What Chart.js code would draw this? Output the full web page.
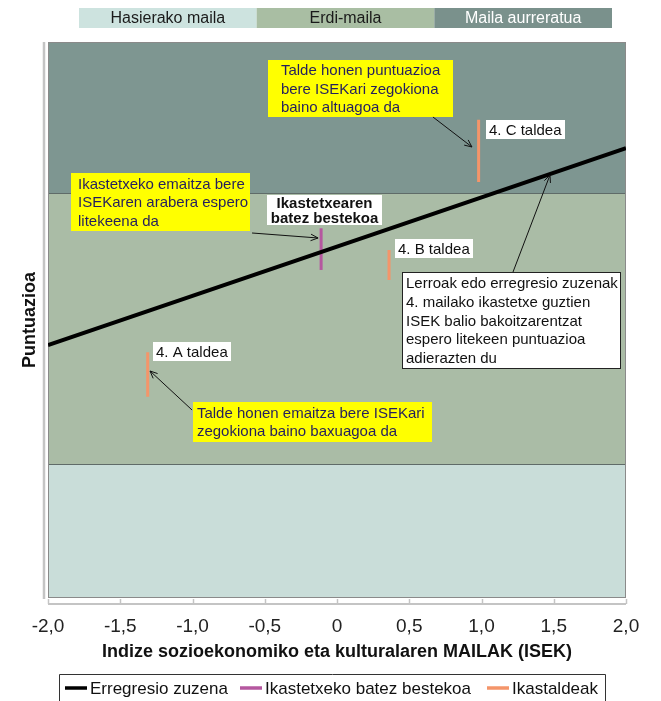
<!DOCTYPE html>
<html><head><meta charset="utf-8">
<script src="https://cdn.jsdelivr.net/npm/chart.js@4.4.1/dist/chart.umd.min.js"></script>
<style>html,body{margin:0;padding:0;background:#fff;}#wrap{width:661px;height:701px;position:relative;overflow:hidden;}</style>
</head><body><div id="wrap"><canvas id="c" width="661" height="701"></canvas></div>
<script>
// ---- data ----
const xTickValues = [-2, -1.5, -1, -0.5, 0, 0.5, 1, 1.5, 2];
const xTickLabels = ['-2,0', '-1,5', '-1,0', '-0,5', '0', '0,5', '1,0', '1,5', '2,0'];
const seriesNames = ['Erregresio zuzena', 'Ikastetxeko batez bestekoa', 'Ikastaldeak'];
const regressionIsek = [-2, 2];
const regressionScore = [45.5, 80.9];
const schoolIsek = [-0.11];
const schoolLow = [59.0];
const schoolHigh = [66.5];
const groupNames = ['4. A taldea', '4. B taldea', '4. C taldea'];
const groupIsek = [-1.31, 0.36, 0.98];
const groupLow = [36.2, 57.2, 74.8];
const groupHigh = [44.2, 62.6, 86.0];
const bandNames = ['Hasierako maila', 'Erdi-maila', 'Maila aurreratua'];
const bandLimits = [0, 24.1, 72.8, 100];

// ---- styles ----
const FONT = "'Liberation Sans', Arial, sans-serif";
const bandFill = ['#c9ddd9', '#aabca6', '#7e9691'];
const bandKeyFill = ['#cde3df', '#a9bea3', '#7a918c'];
const bandKeyText = ['#1a1a1a', '#1a1a1a', '#ffffff'];
const seriesColors = ['#000000', '#b5579f', '#f4956a'];
const NAVY = '#241f5e';

// annotation boxes (anchor = top-left in data units)
const notes = [
  {x: -0.478, y: 96.76, w: 185, h: 57, padX: 13, lh: 18.4, bg: '#ffff00', color: NAVY,
   lines: ['Talde honen puntuazioa', 'bere ISEKari zegokiona', 'baino altuagoa da']},
  {x: -1.841, y: 76.44, w: 179, h: 58, padX: 7, lh: 18.4, bg: '#ffff00', color: NAVY,
   lines: ['Ikastetxeko emaitza bere', 'ISEKaren arabera espero', 'litekeena da']},
  {x: -0.484, y: 72.48, w: 115, h: 30, center: true, bold: true, lh: 15, bg: '#ffffff', color: '#111',
   lines: ['Ikastetxearen', 'batez bestekoa']},
  {x: 0.450, y: 58.63, w: 219, h: 97, padX: 4, lh: 18.6, bg: '#ffffff', color: '#111', border: '#222',
   lines: ['Lerroak edo erregresio zuzenak', '4. mailako ikastetxe guztien', 'ISEK balio bakoitzarentzat', 'espero litekeen puntuazioa', 'adierazten du']},
  {x: -0.997, y: 35.25, w: 239, h: 40, padX: 4, lh: 18.4, bg: '#ffff00', color: NAVY,
   lines: ['Talde honen emaitza bere ISEKari', 'zegokiona baino baxuagoa da']}
];
const groupLabelPos = [ {dx: 5, dy: -10}, {dx: 6, dy: -11}, {dx: 7, dy: 0} ];
const arrows = [
  [0.664, 86.51, 0.934, 81.12],
  [-0.588, 65.65, -0.131, 64.75],
  [1.218, 58.63, 1.474, 76.08],
  [-1.003, 33.81, -1.294, 40.83]
];

function drawArrow(ctx, x1, y1, x2, y2) {
  ctx.save();
  ctx.strokeStyle = '#111'; ctx.lineWidth = 1;
  ctx.beginPath(); ctx.moveTo(x1, y1); ctx.lineTo(x2, y2); ctx.stroke();
  const a = Math.atan2(y2 - y1, x2 - x1), L = 8, s = 0.42;
  ctx.beginPath();
  ctx.moveTo(x2 - L * Math.cos(a - s), y2 - L * Math.sin(a - s));
  ctx.lineTo(x2, y2);
  ctx.lineTo(x2 - L * Math.cos(a + s), y2 - L * Math.sin(a + s));
  ctx.stroke();
  ctx.restore();
}

function drawBox(ctx, left, top, n) {
  ctx.save();
  ctx.fillStyle = n.bg;
  ctx.fillRect(Math.round(left), Math.round(top), n.w, n.h);
  if (n.border) { ctx.strokeStyle = n.border; ctx.lineWidth = 1; ctx.strokeRect(Math.round(left) + 0.5, Math.round(top) + 0.5, n.w - 1, n.h - 1); }
  ctx.fillStyle = n.color;
  ctx.font = (n.bold ? 'bold ' : '') + '15px ' + FONT;
  ctx.textBaseline = 'middle';
  const total = n.lines.length * n.lh;
  const y0 = top + (n.h - total) / 2 + n.lh / 2 + 1;
  n.lines.forEach((t, i) => {
    if (n.center) { ctx.textAlign = 'center'; ctx.fillText(t, left + n.w / 2, y0 + i * n.lh); }
    else { ctx.textAlign = 'left'; ctx.fillText(t, left + n.padX, y0 + i * n.lh); }
  });
  ctx.restore();
}

const decor = {
  id: 'decor',
  beforeDatasetsDraw(chart) {
    const {ctx, chartArea: a, scales: {x, y}} = chart;
    ctx.save();
    for (let i = 0; i < bandNames.length; i++) {
      const yt = y.getPixelForValue(bandLimits[i + 1]);
      const yb = y.getPixelForValue(bandLimits[i]);
      ctx.fillStyle = bandFill[i];
      ctx.fillRect(a.left, yt, a.right - a.left, yb - yt);
    }
    ctx.strokeStyle = '#5f6b68'; ctx.lineWidth = 1;
    for (let i = 1; i < bandLimits.length - 1; i++) {
      const yy = Math.round(y.getPixelForValue(bandLimits[i])) + 0.5;
      ctx.beginPath(); ctx.moveTo(a.left, yy); ctx.lineTo(a.right, yy); ctx.stroke();
    }
    // frame
    ctx.strokeStyle = '#8a8a8a';
    ctx.strokeRect(a.left + 0.5, a.top + 0.5, a.right - a.left - 1, a.bottom - a.top - 1);
    // axis lines
    ctx.strokeStyle = '#c4c4c4'; ctx.lineWidth = 2.5;
    ctx.beginPath(); ctx.moveTo(a.left - 4, a.top); ctx.lineTo(a.left - 4, a.bottom + 1); ctx.stroke();
    ctx.lineWidth = 2;
    const ay = a.bottom + 6;
    ctx.beginPath(); ctx.moveTo(a.left, ay); ctx.lineTo(a.right, ay); ctx.stroke();
    ctx.lineWidth = 1.5;
    xTickValues.forEach(v => {
      const px = Math.round(x.getPixelForValue(v)) + 0.5;
      ctx.beginPath(); ctx.moveTo(px, ay); ctx.lineTo(px, ay - 5); ctx.stroke();
    });
    ctx.restore();
  },
  afterDatasetsDraw(chart) {
    const {ctx, chartArea: a, scales: {x, y}} = chart;
    // group labels
    ctx.save();
    ctx.font = '15px ' + FONT; ctx.textBaseline = 'middle'; ctx.textAlign = 'left';
    groupNames.forEach((g, i) => {
      const lx = x.getPixelForValue(groupIsek[i]) + groupLabelPos[i].dx;
      const ly = y.getPixelForValue(groupHigh[i]) + groupLabelPos[i].dy;
      const w = Math.ceil(ctx.measureText(g).width) + 6;
      ctx.fillStyle = '#ffffff'; ctx.fillRect(Math.round(lx), Math.round(ly), w, 19);
      ctx.fillStyle = '#111'; ctx.fillText(g, Math.round(lx) + 3, Math.round(ly) + 10.5);
    });
    ctx.restore();
    notes.forEach(n => drawBox(ctx, x.getPixelForValue(n.x), y.getPixelForValue(n.y), n));
    arrows.forEach(r => drawArrow(ctx, x.getPixelForValue(r[0]), y.getPixelForValue(r[1]), x.getPixelForValue(r[2]), y.getPixelForValue(r[3])));
  },
  afterDraw(chart) {
    const {ctx, chartArea: a} = chart;
    ctx.save();
    // level key on top
    const kL = a.left + 31, kR = a.right - 14, kT = a.top - 34, kH = 20;
    const cw = (kR - kL) / bandNames.length;
    ctx.font = '16px ' + FONT; ctx.textAlign = 'center'; ctx.textBaseline = 'middle';
    bandNames.forEach((b, i) => {
      ctx.fillStyle = bandKeyFill[i];
      ctx.fillRect(kL + i * cw, kT, cw, kH);
      ctx.fillStyle = bandKeyText[i];
      ctx.fillText(b, kL + i * cw + cw / 2, kT + kH / 2 + 1);
    });
    // bottom legend
    const bL = 59, bR = 605, bT = 674;
    ctx.strokeStyle = '#333'; ctx.lineWidth = 1;
    ctx.beginPath();
    ctx.moveTo(bL + 0.5, chart.height); ctx.lineTo(bL + 0.5, bT + 0.5); ctx.lineTo(bR + 0.5, bT + 0.5); ctx.lineTo(bR + 0.5, chart.height);
    ctx.stroke();
    const itemX = [6, 181, 428];
    ctx.font = '17px ' + FONT; ctx.textAlign = 'left'; ctx.textBaseline = 'middle';
    seriesNames.forEach((s, i) => {
      const sx = bL + itemX[i];
      ctx.strokeStyle = seriesColors[i]; ctx.lineWidth = 3.5;
      ctx.beginPath(); ctx.moveTo(sx, 688); ctx.lineTo(sx + 22, 688); ctx.stroke();
      ctx.fillStyle = '#111';
      ctx.fillText(s, sx + 25, 689);
    });
    ctx.restore();
  }
};

const datasets = [
  {label: seriesNames[0], data: regressionIsek.map((v, i) => ({x: v, y: regressionScore[i]})),
   borderColor: seriesColors[0], borderWidth: 4},
  {label: seriesNames[1], data: schoolIsek.flatMap((v, i) => [{x: v, y: schoolLow[i]}, {x: v, y: schoolHigh[i]}]),
   borderColor: seriesColors[1], borderWidth: 3},
  {label: seriesNames[2], data: groupIsek.flatMap((v, i) => [{x: v, y: groupLow[i]}, {x: v, y: groupHigh[i]}, {x: v, y: null}]),
   borderColor: seriesColors[2], borderWidth: 3, spanGaps: false}
].map(d => Object.assign({showLine: true, pointRadius: 0, pointHoverRadius: 0, fill: false, tension: 0, borderCapStyle: 'butt'}, d));

new Chart(document.getElementById('c'), {
  type: 'scatter',
  data: {datasets},
  plugins: [decor],
  options: {
    responsive: false, animation: false, devicePixelRatio: 1,
    layout: {padding: {top: 42, right: 35, left: 0, bottom: 0}},
    plugins: {legend: {display: false}, tooltip: {enabled: false}},
    scales: {
      x: {
        type: 'linear', min: -2, max: 2,
        afterFit: s => { s.height = 103; },
        afterBuildTicks: s => { s.ticks = xTickValues.map(v => ({value: v})); },
        grid: {display: false, drawTicks: false},
        border: {display: false},
        ticks: {padding: 17, color: '#222', font: {family: FONT, size: 19}, maxRotation: 0,
                callback: v => { const k = xTickValues.indexOf(v); return k >= 0 ? xTickLabels[k] : ''; }},
        title: {display: true, text: 'Indize sozioekonomiko eta kulturalaren MAILAK (ISEK)', color: '#111',
                font: {family: FONT, size: 18, weight: 'bold'}, padding: {top: 0, bottom: 38}}
      },
      y: {
        min: 0, max: 100,
        afterFit: s => { s.width = 48; },
        grid: {display: false, drawTicks: false},
        border: {display: false},
        ticks: {display: false},
        title: {display: true, text: 'Puntuazioa', color: '#111',
                font: {family: FONT, size: 18, weight: 'bold'}, padding: {top: 19, bottom: 0}}
      }
    }
  }
});
</script></body></html>
